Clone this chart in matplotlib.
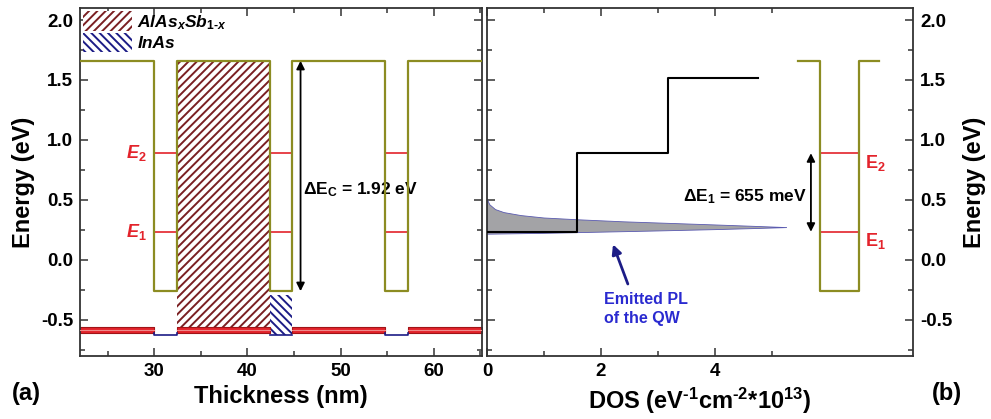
import matplotlib.pyplot as plt
import numpy as np
from matplotlib.patches import Patch
from matplotlib.ticker import MultipleLocator

plt.rcParams['font.family'] = ['Liberation Sans', 'DejaVu Sans']
plt.rcParams['font.weight'] = 'bold'
plt.rcParams['axes.labelweight'] = 'bold'
plt.rcParams['mathtext.fontset'] = 'custom'
plt.rcParams['mathtext.rm'] = 'Liberation Sans:bold'
plt.rcParams['mathtext.it'] = 'Liberation Sans:bold:italic'
plt.rcParams['mathtext.bf'] = 'Liberation Sans:bold'
plt.rcParams['hatch.linewidth'] = 1.4

HY = '\u2010'  # plain hyphen, mathtext turns '-' into a minus sign

# conduction band of the superlattice (nm / eV)
wells = [(30.0, 32.4), (42.4, 44.8), (54.8, 57.2)]
x_range = (22.0, 65.2)
barrier_top = 1.66
well_bottom = -0.26
E1 = 0.235
E2 = 0.89
dEc = 1.92
dE1 = 655  # meV

# valence side / material blocks
alsb_block = (32.4, 42.4, -0.555, 1.66)
inas_block = (42.4, 44.8, -0.625, -0.29)
vb_top, vb_bot, vb_well = -0.555, -0.61, -0.625

# density of states steps (x 1e13 eV^-1 cm^-2)
dos_edges = [1.585, 3.17, 4.755]
dos_levels = [E1, E2, 1.52]

# photoluminescence of the QW, plotted sideways
pl_x_top = [0.0, 0.05, 0.15, 0.3, 0.6, 1.0, 1.6, 2.4, 3.2, 4.0, 4.7, 5.26]
pl_e_top = [0.51, 0.46, 0.42, 0.395, 0.37, 0.35, 0.335, 0.318, 0.305, 0.292, 0.28, 0.27]
pl_x_bot = [0.0, 1.0, 2.0, 3.0, 4.0, 4.7, 5.26]
pl_e_bot = [0.215, 0.222, 0.232, 0.242, 0.253, 0.262, 0.27]

# single well drawn next to the DOS
well_r = (5.84, 6.53)
stub_r = (5.46, 6.88)

olive = '#8c8c22'
red = '#e3232b'
maroon = '#7a1f22'
navy = '#1c1c86'
spine_c = '#333333'

fig = plt.figure(figsize=(9.91, 4.19), dpi=100)
ax1 = fig.add_axes([0.0807, 0.1504, 0.4057, 0.8305])
ax2 = fig.add_axes([0.4914, 0.1504, 0.4299, 0.8305])

# ---------- (a) band diagram ----------
bx = [x_range[0]]
be = [barrier_top]
for a, b in wells:
    bx += [a, a, b, b]
    be += [barrier_top, well_bottom, well_bottom, barrier_top]
bx.append(x_range[1])
be.append(barrier_top)

x0, x1, y0, y1 = alsb_block
ax1.fill_between([x0, x1], y0, y1, facecolor='white', edgecolor=maroon,
                 hatch='////', linewidth=0, zorder=1)
x0, x1, y0, y1 = inas_block
ax1.fill_between([x0, x1], y0, y1, facecolor='white', edgecolor=navy,
                 hatch='\\\\\\\\', linewidth=0, zorder=1)
ax1.plot([x0, x1], [y0, y0], color=navy, lw=1.2, zorder=2)

# red valence band between the wells
segs = [x_range[0]]
for a, b in wells:
    segs += [a, b]
segs.append(x_range[1])
for i in range(0, len(segs), 2):
    ax1.fill_between([segs[i], segs[i + 1]], vb_bot, vb_top, facecolor=red,
                     edgecolor='#a01418', linewidth=0.8, zorder=2)
    ax1.plot([segs[i], segs[i + 1]], [(vb_top + vb_bot) / 2] * 2,
             color='#f08a8a', lw=0.8, zorder=3)
for a, b in [wells[0], wells[2]]:
    ax1.plot([a, a, b, b], [vb_bot, vb_well, vb_well, vb_bot], color=navy,
             lw=1.2, zorder=2)

ax1.plot(bx, be, color=olive, lw=1.6, zorder=4)
for a, b in wells:
    ax1.plot([a, b], [E1, E1], color=red, lw=1.2, zorder=3)
    ax1.plot([a, b], [E2, E2], color=red, lw=1.2, zorder=3)
ax1.text(29.2, E2, r'$E_2$', color=red, fontsize=13, ha='right', va='center')
ax1.text(29.2, E1, r'$E_1$', color=red, fontsize=13, ha='right', va='center')

ax1.annotate('', xy=(45.7, well_bottom), xytext=(45.7, barrier_top),
             arrowprops=dict(arrowstyle='<|-|>', color='black', lw=1.3,
                             mutation_scale=12, shrinkA=0, shrinkB=0))
ax1.text(46.0, 0.59, r'ΔE$_\mathregular{C}$ = %.2f eV' % dEc, fontsize=12.5,
         ha='left', va='center')

handles = [Patch(facecolor='white', edgecolor=maroon, hatch='////', lw=0),
           Patch(facecolor='white', edgecolor=navy, hatch='\\\\\\\\', lw=0)]
labels = [r'AlAs$_\mathit{x}$Sb$_\mathit{1%sx}$' % HY, 'InAs']
ax1.legend(handles, labels, loc='upper left',
           bbox_to_anchor=(0.0, 1.0), frameon=False,
           prop={'size': 12.5, 'style': 'italic', 'weight': 'bold'},
           handlelength=2.8, handleheight=1.35, labelspacing=0.05,
           handletextpad=0.3, borderaxespad=0.1, borderpad=0.1)

ax1.set_xlim(*x_range)
ax1.set_ylim(-0.8, 2.1)
ax1.xaxis.set_major_locator(MultipleLocator(10))
ax1.xaxis.set_minor_locator(MultipleLocator(5))
ax1.yaxis.set_major_locator(MultipleLocator(0.5))
ax1.yaxis.set_minor_locator(MultipleLocator(0.25))
ax1.yaxis.set_major_formatter(lambda v, p: '%.1f' % v)
ax1.set_xlabel('Thickness (nm)', fontsize=17, labelpad=4)
ax1.set_ylabel('Energy (eV)', fontsize=17, labelpad=4)

# ---------- (b) DOS and PL ----------
pl_x = pl_x_top + pl_x_bot[::-1]
pl_e = pl_e_top + pl_e_bot[::-1]
ax2.fill(pl_x, pl_e, facecolor='#a3a3a6', edgecolor='#5a5ab0', lw=0.6, zorder=2)

sx = [0.0]
se = [dos_levels[0]]
for i, edge in enumerate(dos_edges):
    sx.append(edge)
    se.append(dos_levels[i])
    if i + 1 < len(dos_levels):
        sx.append(edge)
        se.append(dos_levels[i + 1])
ax2.plot(sx, se, color='black', lw=1.5, zorder=3)

ax2.plot([stub_r[0], well_r[0], well_r[0], well_r[1], well_r[1], stub_r[1]],
         [barrier_top, barrier_top, well_bottom, well_bottom, barrier_top, barrier_top],
         color=olive, lw=1.6, zorder=4)
ax2.plot(well_r, [E1, E1], color=red, lw=1.2, zorder=3)
ax2.plot(well_r, [E2, E2], color=red, lw=1.2, zorder=3)
ax2.text(6.62, 0.81, r'E$_\mathregular{2}$', color=red, fontsize=13, ha='left', va='center')
ax2.text(6.62, 0.16, r'E$_\mathregular{1}$', color=red, fontsize=13, ha='left', va='center')

ax2.annotate('', xy=(5.68, E1), xytext=(5.68, E2),
             arrowprops=dict(arrowstyle='<|-|>', color='black', lw=1.3,
                             mutation_scale=12, shrinkA=0, shrinkB=0))
ax2.text(5.6, 0.53, r'ΔE$_\mathregular{1}$ = %d meV' % dE1, fontsize=12.5,
         ha='right', va='center')

ax2.annotate('', xy=(2.21, 0.13), xytext=(2.47, -0.2),
             arrowprops=dict(arrowstyle='-|>', color=navy, lw=2,
                             mutation_scale=14, shrinkA=0, shrinkB=0))
ax2.text(2.05, -0.41, 'Emitted PL\nof the QW', color='#2a2ad0', fontsize=11.5,
         ha='left', va='center', linespacing=1.35)

ax2.set_xlim(0, 7.47)
ax2.set_ylim(-0.8, 2.1)
ax2.set_xticks([0, 2, 4])
ax2.set_xticks([1, 3, 5], minor=True)
ax2.yaxis.set_major_locator(MultipleLocator(0.5))
ax2.yaxis.set_minor_locator(MultipleLocator(0.25))
ax2.yaxis.set_major_formatter(lambda v, p: '%.1f' % v)
ax2.tick_params(labelleft=False, labelright=True)
ax2.yaxis.set_label_position('right')
ax2.set_xlabel('DOS (eV$^{\\mathregular{%s1}}$cm$^{\\mathregular{%s2}}$*10$^{\\mathregular{13}}$)'
               % (HY, HY), fontsize=17, labelpad=4)
ax2.set_ylabel('Energy (eV)', fontsize=17, labelpad=8)

for ax in (ax1, ax2):
    for s in ax.spines.values():
        s.set_color(spine_c)
        s.set_linewidth(1.3)
    ax.tick_params(which='both', direction='in', top=True, bottom=True,
                   left=True, right=True, color=spine_c, width=1.1)
    ax.tick_params(which='major', length=6, labelsize=13.5, pad=5)
    ax.tick_params(which='minor', length=3.5)

fig.text(0.012, 0.062, '(a)', fontsize=17, ha='left', va='center')
fig.text(0.94, 0.062, '(b)', fontsize=17, ha='left', va='center')

fig.savefig('out.png', dpi=100)
